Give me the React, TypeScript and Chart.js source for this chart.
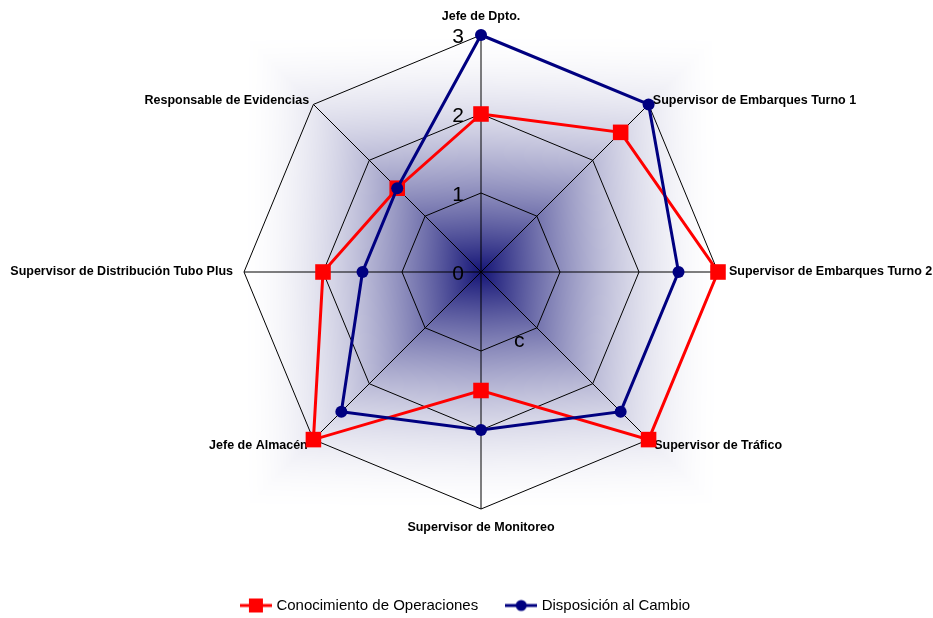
import React, { useEffect, useRef } from 'react';
import { Chart, registerables } from 'chart.js';

Chart.register(...registerables);

const categories = [
  'Jefe de Dpto.',
  'Supervisor de Embarques Turno 1',
  'Supervisor de Embarques Turno 2',
  'Supervisor de Tráfico',
  'Supervisor de Monitoreo',
  'Jefe de Almacén',
  'Supervisor de Distribución Tubo Plus',
  'Responsable de Evidencias',
];
const seriesNames = ['Conocimiento de Operaciones', 'Disposición al Cambio'];
const conocimiento = [2, 2.5, 3, 3, 1.5, 3, 2, 1.5];
const disposicion = [3, 3, 2.5, 2.5, 2, 2.5, 1.5, 1.5];
const tickValues = [0, 1, 2, 3];
const strayLabel = 'c';
const strayLabelValue = 1;
const strayLabelAngleDeg = 151;

const FONT = '"Liberation Sans", Arial, sans-serif';
const RED = '#FF0000';
const NAVY = '#000080';

// layout of the radar (plot area) inside the canvas
const PLOT_CX = 481;
const PLOT_CY = 272;
const PLOT_R = 237;

function makeMarker(color: string, shape: 'rect' | 'circle') {
  const c = document.createElement('canvas');
  c.width = 32;
  c.height = 16;
  const ctx = c.getContext('2d')!;
  ctx.strokeStyle = color;
  ctx.lineWidth = 3;
  ctx.beginPath();
  ctx.moveTo(0, 8);
  ctx.lineTo(32, 8);
  ctx.stroke();
  ctx.fillStyle = color;
  if (shape === 'rect') {
    ctx.fillRect(9, 1, 14, 14);
  } else {
    ctx.beginPath();
    ctx.arc(16, 8, 5.5, 0, Math.PI * 2);
    ctx.fill();
  }
  return c;
}

let bgCache: HTMLCanvasElement | null = null;
function makeBackground(S: number) {
  if (bgCache && bgCache.width === 2 * S) return bgCache;
  const c = document.createElement('canvas');
  c.width = 2 * S;
  c.height = 2 * S;
  const ctx = c.getContext('2d')!;
  const img = ctx.createImageData(2 * S, 2 * S);
  const cr = 20, cg = 20, cb = 118;
  const g = (u: number) => Math.pow(Math.max(0, 1 - u), 1.8);
  const h = (u: number) => Math.pow(Math.max(0, 1 - u), 0.15);
  for (let j = 0; j < 2 * S; j++) {
    const v = Math.abs(j + 0.5 - S) / S;
    for (let i = 0; i < 2 * S; i++) {
      const u = Math.abs(i + 0.5 - S) / S;
      const f = g(Math.max(u, v)) * h(Math.min(u, v));
      const k = (j * 2 * S + i) * 4;
      img.data[k] = Math.round(255 + (cr - 255) * f);
      img.data[k + 1] = Math.round(255 + (cg - 255) * f);
      img.data[k + 2] = Math.round(255 + (cb - 255) * f);
      img.data[k + 3] = 255;
    }
  }
  ctx.putImageData(img, 0, 0);
  bgCache = c;
  return c;
}

const backgroundPlugin = {
  id: 'plotBackground',
  beforeDraw(chart: any) {
    const s = chart.scales.r;
    if (!s) return;
    const S = Math.round(s.drawingArea * 1.015);
    const img = makeBackground(S);
    chart.ctx.drawImage(img, s.xCenter - S, s.yCenter - S);
  },
};

const tickLabelPlugin = {
  id: 'tickLabels',
  beforeDatasetsDraw(chart: any) {
    const s = chart.scales.r;
    const ctx = chart.ctx;
    ctx.save();
    ctx.font = `21px ${FONT}`;
    ctx.fillStyle = '#000';
    ctx.textAlign = 'right';
    ctx.textBaseline = 'middle';
    tickValues.forEach((v) => {
      const d = s.getDistanceFromCenterForValue(v);
      ctx.fillText(String(v), s.xCenter - 17, s.yCenter - d + 2.5);
    });
    const d = s.getDistanceFromCenterForValue(strayLabelValue);
    const th = (strayLabelAngleDeg * Math.PI) / 180;
    ctx.textAlign = 'center';
    ctx.fillText(strayLabel, s.xCenter + d * Math.sin(th), s.yCenter - d * Math.cos(th));
    ctx.restore();
  },
};

const labelPadding = (i: number) => {
  if (i === 1 || i === 7) return 6;
  if (i === 3 || i === 5) return 8;
  return 11;
};

export default function App() {
  const ref = useRef<HTMLCanvasElement | null>(null);
  useEffect(() => {
    if (!ref.current) return;
    const markers = [makeMarker(RED, 'rect'), makeMarker(NAVY, 'circle')];
    const chart = new Chart(ref.current, {
      type: 'radar',
      data: {
        labels: categories,
        datasets: [
          {
            label: seriesNames[0],
            data: conocimiento,
            borderColor: RED,
            backgroundColor: RED,
            borderWidth: 3,
            pointStyle: 'rect',
            pointRadius: 11,
            pointHoverRadius: 11,
            pointBackgroundColor: RED,
            pointBorderWidth: 0,
            fill: false,
            order: 2,
            clip: false,
          },
          {
            label: seriesNames[1],
            data: disposicion,
            borderColor: NAVY,
            backgroundColor: NAVY,
            borderWidth: 3,
            pointStyle: 'circle',
            pointRadius: 6,
            pointHoverRadius: 6,
            pointBackgroundColor: NAVY,
            pointBorderWidth: 0,
            fill: false,
            order: 1,
            clip: false,
          },
        ],
      },
      options: {
        animation: false,
        responsive: false,
        maintainAspectRatio: false,
        layout: { padding: { top: 0, left: 0, right: 0, bottom: -5 } },
        plugins: {
          tooltip: { enabled: false },
          legend: {
            position: 'bottom',
            labels: {
              usePointStyle: true,
              pointStyleWidth: 26,
              padding: 30,
              color: '#000',
              font: { family: FONT, size: 15 },
              sort: (a: any, b: any) => a.datasetIndex - b.datasetIndex,
              generateLabels: (c: any) => {
                const items = (Chart.defaults.plugins.legend.labels as any).generateLabels(c);
                items.forEach((it: any) => {
                  it.pointStyle = markers[it.datasetIndex];
                });
                return items;
              },
            },
          },
        },
        scales: {
          r: {
            min: 0,
            max: 3,
            ticks: { stepSize: 1, display: false },
            grid: { circular: false, color: '#000', lineWidth: 1 },
            angleLines: { color: '#000', lineWidth: 1 },
            pointLabels: {
              color: '#000',
              padding: (ctx: any) => labelPadding(ctx.index),
              font: (ctx: any) => ({
                family: FONT,
                size: 12.5,
                weight: 'bold',
                lineHeight: ctx.index % 2 ? 0.01 : 1.2,
              }),
            },
            afterSetDimensions: (scale: any) => {
              scale.xCenter = PLOT_CX;
              scale.yCenter = PLOT_CY;
              scale.drawingArea = PLOT_R;
              scale.left -= 80;
              scale.right += 80;
              scale.top -= 80;
            },
          },
        },
      },
      plugins: [backgroundPlugin, tickLabelPlugin],
    } as any);
    return () => chart.destroy();
  }, []);
  return (
    <div style={{ position: 'absolute', left: 0, top: 0, width: 933, height: 618 }}>
      <canvas ref={ref} width={933} height={618} style={{ display: 'block' }} />
    </div>
  );
}
